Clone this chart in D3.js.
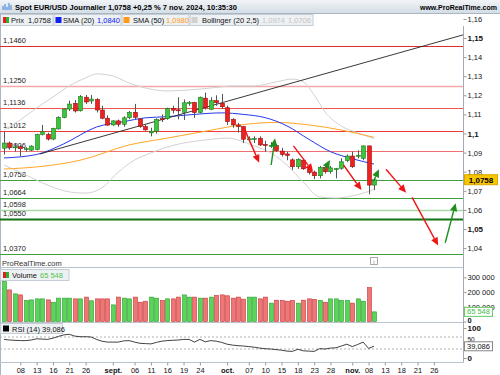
<!DOCTYPE html>
<html>
<head>
<meta charset="utf-8">
<script src="https://cdn.jsdelivr.net/npm/d3@7"></script>
<style>
  html, body { margin: 0; padding: 0; background: #fff; }
  svg { display: block; font-family: "Liberation Sans", Arial, sans-serif; }
</style>
</head>
<body>
<div id="chart"></div>
<script>
// daily candles, 5 Aug -> 7 Nov 2024 (trading days, index 0..68)
const opens  = [1.0923,1.0950,1.0926,1.0931,1.0917,1.0913,1.0916,1.0995,1.0995,1.0971,
                1.1024,1.1083,1.1128,1.1158,1.1119,1.1190,1.1170,1.1178,1.1123,1.1080,
                1.1045,1.1066,1.1048,1.1083,1.1111,1.1076,1.1036,1.1003,1.1012,1.1078,
                1.1078,1.1130,1.1124,1.1111,1.1158,1.1162,1.1110,1.1185,1.1127,1.1172,
                1.1158,1.1135,1.1074,1.1045,1.1036,1.0968,1.0970,1.0975,1.0942,1.0935,
                1.0938,1.0908,1.0893,1.0862,1.0826,1.0860,1.0815,1.0798,1.0779,1.0823,
                1.0800,1.0812,1.0818,1.0858,1.0882,1.0882,1.0870,1.0935,1.0730];
const highs  = [1.1009,1.0958,1.0950,1.0940,1.0928,1.0938,1.0999,1.1045,1.1004,1.1030,
                1.1090,1.1132,1.1172,1.1175,1.1201,1.1202,1.1202,1.1185,1.1145,1.1095,
                1.1070,1.1073,1.1090,1.1118,1.1155,1.1080,1.1050,1.1030,1.1080,1.1100,
                1.1135,1.1145,1.1190,1.1178,1.1170,1.1166,1.1193,1.1214,1.1190,1.1200,
                1.1207,1.1146,1.1080,1.1055,1.1040,1.0985,1.0985,1.0985,1.0962,1.0955,
                1.0945,1.0925,1.0905,1.0870,1.0870,1.0865,1.0830,1.0805,1.0830,1.0830,
                1.0830,1.0820,1.0870,1.0890,1.0905,1.0912,1.0937,1.0937,1.0765];
const lows   = [1.0890,1.0915,1.0905,1.0881,1.0905,1.0908,1.0912,1.0990,1.0963,1.0965,
                1.1020,1.1080,1.1118,1.1110,1.1115,1.1155,1.1155,1.1110,1.1075,1.1040,
                1.1040,1.1035,1.1035,1.1075,1.1075,1.1030,1.1015,1.0985,1.1000,1.1060,
                1.1072,1.1105,1.1074,1.1071,1.1145,1.1082,1.1105,1.1125,1.1122,1.1145,
                1.1130,1.1045,1.1030,1.1005,1.0950,1.0955,1.0950,1.0935,1.0905,1.0925,
                1.0905,1.0880,1.0860,1.0810,1.0815,1.0810,1.0785,1.0761,1.0765,1.0790,
                1.0790,1.0765,1.0810,1.0850,1.0820,1.0870,1.0860,1.0682,1.0704];
const closes = [1.0950,1.0928,1.0930,1.0920,1.0921,1.0934,1.0995,1.1009,1.0971,1.1027,
                1.1085,1.1128,1.1154,1.1118,1.1193,1.1165,1.1180,1.1123,1.1080,1.1044,
                1.1066,1.1048,1.1082,1.1111,1.1085,1.1036,1.1019,1.1012,1.1074,1.1076,
                1.1130,1.1122,1.1120,1.1161,1.1162,1.1110,1.1190,1.1135,1.1172,1.1161,
                1.1140,1.1062,1.1045,1.1036,1.0970,1.0972,1.0974,1.0940,1.0938,1.0938,
                1.0910,1.0890,1.0885,1.0826,1.0865,1.0815,1.0795,1.0779,1.0823,1.0800,
                1.0820,1.0816,1.0852,1.0882,1.0826,1.0886,1.0935,1.0730,1.0758];

const volumes = [272000,215000,188000,181000,143000,147000,154000,154000,147000,131000,
                 159000,159000,159000,154000,154000,166000,141000,154000,154000,154000,
                 113000,166000,159000,154000,166000,131000,138000,166000,159000,143000,
                 154000,154000,166000,181000,166000,166000,159000,159000,166000,177000,
                 181000,175000,159000,166000,152000,166000,166000,154000,166000,125000,
                 145000,143000,138000,143000,125000,145000,154000,150000,143000,131000,
                 154000,154000,143000,143000,125000,154000,138000,231000,65548];

const rsi = [62,60,59,58,58,60,64,63,62,66,72,77,79,73,71,71,70,62,56,53,
             53,53,57,58,53,49,48,47,52,56,58,59,60,62,62,53,62,54,58,56,
             52,46,43,41,40,38,36,33,31,30,28,26,23,22,29,24,23,22,31,30,
             33,34,40,46,38,45,53,32,39.086];

// indicator curves: [day index, value]
const sma20 = [[0,1.0872],[6,1.0890],[11,1.0946],[17,1.1034],[22,1.1062],[26,1.1082],
               [30,1.1088],[35,1.1100],[40,1.1108],[44,1.1100],[48,1.1083],[52,1.1040],
               [56,1.0970],[60,1.0905],[64,1.0868],[68,1.0840]];
const sma50 = [[0,1.0814],[7,1.0828],[14,1.0860],[23,1.0940],[30,1.0976],[37,1.1012],
               [45,1.1050],[50,1.1058],[56,1.1045],[62,1.1018],[68,1.0980]];
const bollUp = [[0,1.1018],[3,1.1071],[6,1.1134],[9,1.1191],[12,1.1249],[15,1.1291],
                [17,1.1312],[20,1.1301],[23,1.1264],[26,1.1238],[30,1.1223],[34,1.1228],
                [38,1.1238],[42,1.1249],[46,1.1249],[50,1.1270],[53,1.1285],[55,1.1270],
                [57,1.1202],[59,1.1113],[62,1.1039],[65,1.1003],[68,1.0974]];
const bollDn = [[0,1.0835],[4,1.0783],[8,1.0730],[12,1.0694],[15,1.0688],[18,1.0715],
                [21,1.0798],[24,1.0861],[27,1.0898],[30,1.0929],[34,1.0955],[37,1.0966],
                [41,1.0976],[46,1.0935],[48,1.0914],[52,1.0835],[55,1.0746],[58,1.0668],
                [61,1.0662],[64,1.0673],[68,1.0706]];

// horizontal levels drawn by hand
const levels = [1.1460,1.1250,1.1136,1.1012,1.0906,1.0758,1.0664,1.0598,1.0550,1.0370];
const levelColors = ['#dd2a2a','#f3a6a6','#ee5555','#ee3a3a','#f07070',
                     '#3f9f3f','#3f9f3f','#a6d9a6','#137313','#3f9f3f'];
const levelWidths = [1,1.5,1,1,1,1,1,1.5,2,1];

const trendLine = [[6.6,1.0893],[84.7,1.1519]];
const redArrows = [[[44.0,1.1036],[46.9,1.0847]],[[53.2,1.0935],[56.8,1.0800]],
                   [[62.4,1.0835],[65.7,1.0704]],[[70.2,1.0813],[73.9,1.0690]],
                   [[75.0,1.0666],[79.8,1.0413]]];
const greenArrows = [[[49.1,1.0835],[49.8,1.0975]],[[58.9,1.0809],[59.9,1.0861]],
                     [[67.9,1.0748],[68.9,1.0813]],[[81.1,1.0428],[83.0,1.0635]]];

const dateTicks = [[3,'08'],[6,'13'],[9,'16'],[12,'21'],[15,'26'],[20,'sept.'],[24,'06'],
                   [27,'11'],[30,'16'],[33,'19'],[36,'24'],[41,'oct.'],[45,'07'],[48,'10'],
                   [51,'15'],[54,'18'],[57,'23'],[60,'28'],[64,'nov.'],[67,'08'],[70,'13'],
                   [73,'18'],[76,'21'],[79,'26']];
const priceTicks = d3.range(104, 117).map(d => d / 100);
const volTicks = [0, 100000, 200000, 300000];
const rsiTicks = [0, 50, 100];

const W = 500, H = 375, axisX = 463;
const fr = v => v.toFixed(4).replace('.', ',');
const fAxis = v => String(+v.toFixed(2)).replace('.', ',');

const svg = d3.select('#chart').append('svg')
    .attr('width', W).attr('height', H)
    .style('font-size', '7.5px');

const x = d3.scaleLinear().domain([0, 68]).range([4, 374]);
const yP = d3.scaleLinear().domain([1.04, 1.16]).range([248.1, 18.9]);
const yV = d3.scaleLinear().domain([0, 300000]).range([321.5, 277.4]);
const yR = d3.scaleLinear().domain([0, 100]).range([358, 328]);

const defs = svg.append('defs');
const grad = defs.append('linearGradient').attr('id', 'hdr').attr('x2', 0).attr('y2', 1);
grad.append('stop').attr('offset', 0).attr('stop-color', '#f1f4f7');
grad.append('stop').attr('offset', 1).attr('stop-color', '#d3dce5');
defs.append('clipPath').attr('id', 'pclip').append('rect')
    .attr('x', 0).attr('y', 26).attr('width', axisX).attr('height', 241);

// header bar
svg.append('rect').attr('width', W).attr('height', 13.5).attr('fill', 'url(#hdr)');
svg.append('line').attr('x1', 0).attr('x2', W).attr('y1', 13.5).attr('y2', 13.5).attr('stroke', '#a9b6c3');
svg.append('path').attr('d', 'M3,10 L3,6 M5,10 L5,4 M7,10 L7,7 M9,10 L9,3 M11,10 L11,5')
    .attr('stroke', '#3b7fd8').attr('stroke-width', 1);
svg.append('text').attr('x', 15).attr('y', 10).attr('font-weight', 'bold')
    .text('Spot EUR/USD Journalier 1,0758 +0,25 % 7 nov. 2024, 10:35:30');
svg.append('text').attr('x', 497).attr('y', 10).attr('font-weight', 'bold')
    .attr('text-anchor', 'end').style('font-size', '7px').text('www.ProRealTime.com');

// legend row
const legend = [
  {x0: 0.5, x1: 53, icon: 'split', label: 'Prix', lx: 11, vals: [['1,0758', 28, '#111']]},
  {x0: 54, x1: 121, icon: '#1020ee', label: 'SMA (20)', lx: 63, vals: [['1,0840', 97, '#1020ee']]},
  {x0: 122, x1: 189, icon: '#ff9a1a', label: 'SMA (50)', lx: 133, vals: [['1,0980', 166, '#ff9a1a']]},
  {x0: 190, x1: 313, icon: '#d0d0d0', label: 'Bollinger (20 2,5)', lx: 202,
   vals: [['1,0974', 262, '#c4c4c4'], ['1,0706', 288, '#c4c4c4']]}
];
legend.forEach(l => {
  svg.append('rect').attr('x', l.x0).attr('y', 14.5).attr('width', l.x1 - l.x0).attr('height', 11)
      .attr('fill', '#eef1f4').attr('stroke', '#c5ccd4');
  if (l.icon === 'split') {
    svg.append('rect').attr('x', l.x0 + 2.5).attr('y', 17).attr('width', 3).attr('height', 6).attr('fill', '#e02020');
    svg.append('rect').attr('x', l.x0 + 5.5).attr('y', 17).attr('width', 3).attr('height', 6).attr('fill', '#30b030');
  } else {
    svg.append('rect').attr('x', l.x0 + 1.5).attr('y', 17).attr('width', 6).attr('height', 6).attr('fill', l.icon);
  }
  svg.append('text').attr('x', l.lx).attr('y', 22.8).attr('fill', '#111').text(l.label);
  l.vals.forEach(v => svg.append('text').attr('x', v[1]).attr('y', 22.8).attr('fill', v[2]).text(v[0]));
});

// frame lines
svg.append('line').attr('x1', 0.5).attr('x2', 0.5).attr('y1', 13.5).attr('y2', H).attr('stroke', '#a9b6c3');
svg.append('line').attr('x1', axisX + 0.5).attr('x2', axisX + 0.5).attr('y1', 26).attr('y2', 362.5).attr('stroke', '#a0adb9');
[267.5, 322.5, 362.5].forEach(yy =>
  svg.append('line').attr('x1', 0).attr('x2', axisX).attr('y1', yy).attr('y2', yy).attr('stroke', '#b9c3cd'));

// ---- price panel
const pg = svg.append('g').attr('clip-path', 'url(#pclip)');

pg.selectAll('line.level').data(levels).join('line').attr('class', 'level')
    .attr('x1', 0).attr('x2', axisX)
    .attr('y1', d => Math.round(yP(d)) + 0.5).attr('y2', d => Math.round(yP(d)) + 0.5)
    .attr('stroke', (d, i) => levelColors[i]).attr('stroke-width', (d, i) => levelWidths[i]);
pg.selectAll('text.level').data(levels).join('text').attr('class', 'level')
    .attr('x', 3).attr('y', d => Math.round(yP(d)) - 3).attr('fill', '#222').text(fr);

const curve = d3.line().x(d => x(d[0])).y(d => yP(d[1])).curve(d3.curveMonotoneX);
pg.append('path').datum(bollUp).attr('d', curve).attr('fill', 'none').attr('stroke', '#d2d2d2');
pg.append('path').datum(bollDn).attr('d', curve).attr('fill', 'none').attr('stroke', '#d2d2d2');
pg.append('path').datum(sma50).attr('d', curve).attr('fill', 'none').attr('stroke', '#ffa626');
pg.append('path').datum(sma20).attr('d', curve).attr('fill', 'none').attr('stroke', '#2438ee');
pg.append('path').datum(trendLine).attr('d', d3.line().x(d => x(d[0])).y(d => yP(d[1])))
    .attr('stroke', '#222').attr('stroke-width', 0.9);

const days = d3.range(opens.length);
const cx = i => Math.round(x(i));
pg.selectAll('line.wick').data(days).join('line').attr('class', 'wick')
    .attr('x1', i => cx(i) + 0.5).attr('x2', i => cx(i) + 0.5)
    .attr('y1', i => yP(highs[i])).attr('y2', i => yP(lows[i]))
    .attr('stroke', '#555');
pg.selectAll('rect.body').data(days).join('rect').attr('class', 'body')
    .attr('x', i => cx(i) - 1.5).attr('width', 4)
    .attr('y', i => yP(Math.max(opens[i], closes[i])))
    .attr('height', i => Math.max(1, Math.abs(yP(opens[i]) - yP(closes[i]))))
    .attr('fill', i => closes[i] >= opens[i] ? '#3cc43c' : '#ee2020')
    .attr('stroke', i => closes[i] >= opens[i] ? '#1d7a1d' : '#9a1010')
    .attr('stroke-width', 0.6);

function arrow(g, pts, color) {
  const [a, b] = pts.map(p => [x(p[0]), yP(p[1])]);
  const ang = Math.atan2(b[1] - a[1], b[0] - a[0]);
  const len = 8, wid = 3.6;
  const bx = b[0] - len * Math.cos(ang), by = b[1] - len * Math.sin(ang);
  g.append('line').attr('x1', a[0]).attr('y1', a[1]).attr('x2', bx).attr('y2', by)
      .attr('stroke', color).attr('stroke-width', 1.4);
  const nx = -Math.sin(ang) * wid, ny = Math.cos(ang) * wid;
  g.append('path').attr('d', `M${b[0]},${b[1]}L${bx + nx},${by + ny}L${bx - nx},${by - ny}Z`).attr('fill', color);
}
redArrows.forEach(p => arrow(pg, p, '#ee1515'));
greenArrows.forEach(p => arrow(pg, p, '#1d8f1d'));

svg.append('text').attr('x', 2).attr('y', 265.5).attr('fill', '#333').text('ProRealTime.com');
svg.append('rect').attr('x', 370.5).attr('y', 257.5).attr('width', 7).attr('height', 7)
    .attr('fill', '#fff').attr('stroke', '#aaa');
svg.append('text').attr('x', 374).attr('y', 263.5).attr('text-anchor', 'middle')
    .attr('fill', '#888').style('font-size', '6px').text('i');

// price axis
const pAxis = svg.append('g').attr('transform', `translate(${axisX + 0.5},0)`)
    .call(d3.axisRight(yP).tickValues(priceTicks).tickSize(3).tickFormat(fAxis));
pAxis.select('.domain').remove();
pAxis.selectAll('line').attr('stroke', '#8f9ba7');
pAxis.selectAll('text').attr('x', 4).attr('fill', '#111')
    .attr('font-family', '"Liberation Sans", Arial, sans-serif')
    .attr('font-size', d => Math.round(d * 100) % 5 === 0 ? '8px' : '7.5px')
    .attr('font-weight', d => Math.round(d * 100) % 5 === 0 ? 'bold' : 'normal');

const lastY = yP(closes[closes.length - 1]);
svg.append('rect').attr('x', 464.5).attr('y', lastY - 5).attr('width', 33).attr('height', 10)
    .attr('fill', '#f7c600').attr('stroke', '#d9a800');
svg.append('text').attr('x', 481).attr('y', lastY + 3).attr('text-anchor', 'middle')
    .attr('font-weight', 'bold').style('font-size', '8px').text(fr(closes[closes.length - 1]));

// ---- volume panel
svg.selectAll('rect.vol').data(days).join('rect').attr('class', 'vol')
    .attr('x', i => cx(i) - 1.5).attr('width', 4)
    .attr('y', i => yV(volumes[i])).attr('height', i => yV(0) - yV(volumes[i]))
    .attr('fill', i => closes[i] >= opens[i] ? '#5ad55a' : '#ee7676')
    .attr('stroke', i => closes[i] >= opens[i] ? '#2a9a2a' : '#c63535')
    .attr('stroke-width', 0.6);

svg.append('rect').attr('x', 0.5).attr('y', 269.5).attr('width', 68.5).attr('height', 11)
    .attr('fill', '#eef1f4').attr('stroke', '#c5ccd4');
svg.append('rect').attr('x', 3).attr('y', 272).attr('width', 3).attr('height', 6).attr('fill', '#e02020');
svg.append('rect').attr('x', 6).attr('y', 272).attr('width', 3).attr('height', 6).attr('fill', '#30b030');
svg.append('text').attr('x', 12).attr('y', 278).attr('fill', '#111').text('Volume');
svg.append('text').attr('x', 40).attr('y', 278).attr('fill', '#4cc44c').text('65 548');

const vAxis = svg.append('g').attr('transform', `translate(${axisX + 0.5},0)`)
    .call(d3.axisRight(yV).tickValues(volTicks).tickSize(3)
      .tickFormat(d => d3.format(',')(d).replace(/,/g, ' ')));
vAxis.select('.domain').remove();
vAxis.selectAll('line').attr('stroke', '#8f9ba7');
vAxis.selectAll('text').attr('x', 4).attr('fill', '#111')
    .attr('font-family', '"Liberation Sans", Arial, sans-serif').attr('font-size', '7.5px')
    .attr('font-weight', d => d === 0 ? 'bold' : 'normal')
    .attr('dy', d => d === 0 ? '0.08em' : '0.32em');

const lastV = volumes[volumes.length - 1];
svg.append('rect').attr('x', 464.5).attr('y', yV(lastV) - 4.5).attr('width', 28).attr('height', 9)
    .attr('fill', '#fff').attr('stroke', '#66cc66');
svg.append('text').attr('x', 478.5).attr('y', yV(lastV) + 2.6).attr('text-anchor', 'middle')
    .attr('fill', '#44bb44').text('65 548');

// ---- RSI panel
svg.selectAll('line.rsiref').data([70, 30]).join('line').attr('class', 'rsiref')
    .attr('x1', 0).attr('x2', axisX).attr('y1', d => yR(d)).attr('y2', d => yR(d))
    .attr('stroke', '#b0b0b0').attr('stroke-dasharray', '2,2');
svg.append('path').datum(rsi)
    .attr('d', d3.line().x((d, i) => x(i)).y(d => yR(d)))
    .attr('fill', 'none').attr('stroke', '#111').attr('stroke-width', 0.8);

svg.append('rect').attr('x', 0.5).attr('y', 323.5).attr('width', 62).attr('height', 10)
    .attr('fill', '#eef1f4').attr('stroke', '#c5ccd4');
svg.append('rect').attr('x', 3).attr('y', 325.5).attr('width', 6).attr('height', 6).attr('fill', '#000');
svg.append('text').attr('x', 12).attr('y', 331.5).attr('fill', '#111').text('RSI (14) 39,086');

const rAxis = svg.append('g').attr('transform', `translate(${axisX + 0.5},0)`)
    .call(d3.axisRight(yR).tickValues(rsiTicks).tickSize(3));
rAxis.select('.domain').remove();
rAxis.selectAll('line').attr('stroke', '#8f9ba7');
rAxis.selectAll('text').attr('x', 4).attr('fill', '#111')
    .attr('font-family', '"Liberation Sans", Arial, sans-serif')
    .attr('font-size', d => d === 50 ? '6.5px' : '8px')
    .attr('font-weight', d => d === 50 ? 'normal' : 'bold')
    .attr('dy', d => d === 50 ? '-0.2em' : '0.32em');

const lastR = rsi[rsi.length - 1];
svg.append('rect').attr('x', 464.5).attr('y', yR(lastR) - 4.5).attr('width', 28).attr('height', 9)
    .attr('fill', '#fff').attr('stroke', '#888');
svg.append('text').attr('x', 478.5).attr('y', yR(lastR) + 2.6).attr('text-anchor', 'middle')
    .attr('fill', '#111').text('39,086');

// ---- date axis
const xAxis = svg.append('g').attr('transform', 'translate(0,362.5)')
    .call(d3.axisBottom(x).tickValues(dateTicks.map(d => d[0])).tickSize(3)
      .tickFormat((d, i) => dateTicks[i][1]));
xAxis.select('.domain').remove();
xAxis.selectAll('line').attr('stroke', '#8f9ba7');
xAxis.selectAll('text').attr('y', 5).attr('fill', '#111')
    .attr('font-family', '"Liberation Sans", Arial, sans-serif').attr('font-size', '7.5px')
    .attr('font-weight', (d, i) => dateTicks[i][1].length > 2 ? 'bold' : 'normal');
</script>
</body>
</html>
